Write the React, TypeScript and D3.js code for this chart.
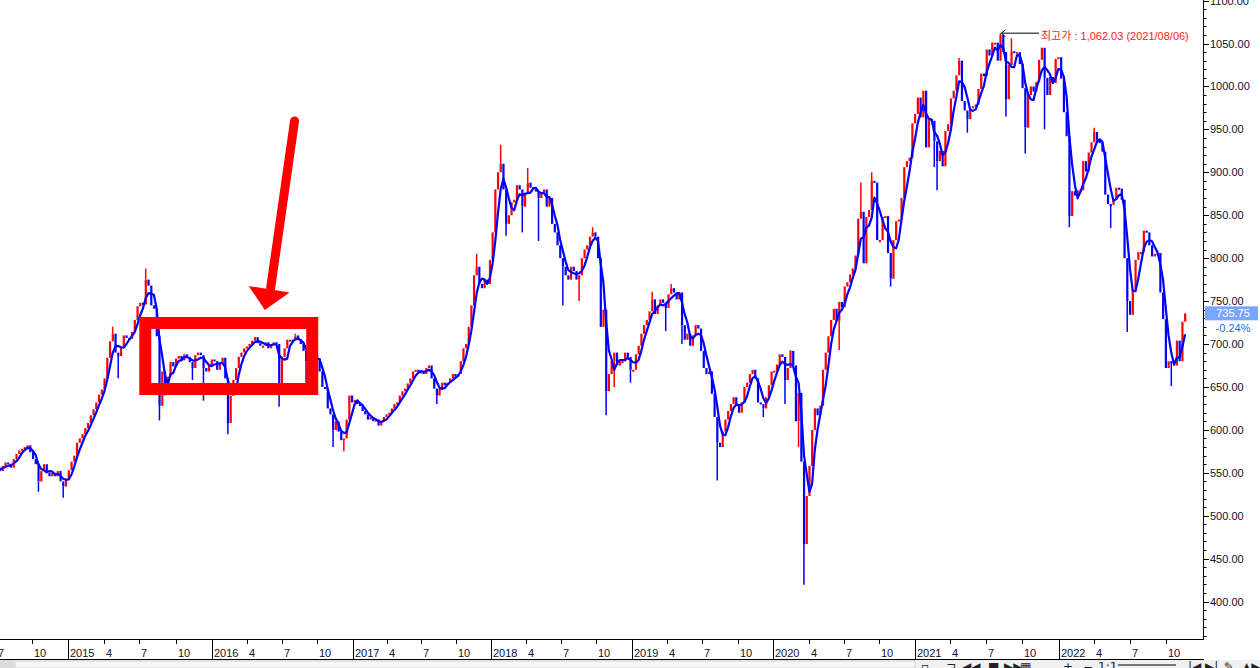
import React from "react";
import * as d3 from "d3";

// ---- weekly closes (Friday of each week) ----
const close2014 = [556, 552, 558, 562, 560, 556, 566, 572, 576, 578, 580, 582, 574, 566, 560, 540, 552, 560, 550, 546, 550, 546, 552, 540, 534, 542];
const close2015 = [553, 563, 570, 585, 590, 595, 602, 608, 617, 624, 632, 641, 647, 660, 684, 703, 712, 690, 686, 697, 710, 707, 706, 714, 728, 744, 748, 746, 775, 768, 745, 741, 709, 628, 668, 650, 662, 679, 674, 683, 686, 681, 688, 685, 679, 672, 687, 690, 687, 672, 668, 675];
const close2016 = [682, 680, 670, 678, 684, 660, 608, 640, 658, 672, 685, 690, 695, 697, 700, 704, 708, 701, 698, 698, 702, 695, 700, 702, 700, 647, 685, 695, 705, 705, 704, 710, 705, 700, 692, 680, 672, 688, 690, 683, 668, 650, 648, 625, 618, 600, 610, 598, 588, 590, 612, 640, 632];
const close2017 = [635, 630, 628, 622, 618, 612, 615, 610, 612, 605, 610, 615, 618, 620, 625, 630, 632, 640, 645, 648, 654, 660, 668, 670, 668, 668, 665, 672, 675, 660, 648, 640, 648, 655, 652, 655, 660, 665, 662, 665, 680, 695, 700, 720, 745, 780, 790, 770, 765, 775, 770, 798];
const close2018 = [830, 880, 900, 910, 880, 840, 850, 865, 868, 885, 880, 860, 875, 888, 882, 880, 878, 870, 875, 880, 860, 870, 840, 830, 815, 800, 790, 780, 775, 790, 785, 775, 780, 800, 810, 815, 825, 830, 825, 800, 720, 740, 645, 665, 680, 690, 675, 680, 680, 690, 685, 670];
const close2019 = [670, 688, 698, 712, 722, 728, 738, 752, 735, 745, 752, 748, 742, 758, 765, 760, 752, 760, 722, 705, 712, 698, 710, 722, 718, 692, 672, 665, 668, 642, 615, 585, 580, 598, 612, 622, 630, 638, 628, 620, 632, 650, 655, 665, 670, 660, 632, 630, 625, 638, 652, 668];
const close2020 = [669, 676, 688, 685, 658, 672, 692, 675, 610, 643, 563, 467, 523, 558, 600, 625, 617, 628, 670, 690, 709, 728, 741, 727, 749, 743, 767, 772, 781, 788, 803, 846, 854, 794, 848, 856, 890, 888, 821, 821, 848, 849, 806, 776, 821, 843, 845, 870, 906, 913, 917, 957];
const close2021 = [968, 987, 964, 995, 929, 962, 960, 936, 913, 925, 907, 948, 956, 986, 995, 1013, 1030, 983, 972, 962, 975, 977, 979, 997, 1015, 1012, 1043, 1036, 1051, 1051, 1030, 1060, 1040, 985, 1025, 1041, 1039, 1040, 1026, 998, 952, 990, 1000, 994, 1005, 1031, 1045, 1010, 990, 1011, 1004, 1032, 1034];
const close2022 = [1009, 970, 942, 849, 878, 873, 879, 879, 913, 901, 923, 935, 947, 937, 934, 924, 874, 863, 862, 868, 882, 881, 868, 800, 750, 734, 764, 798, 807, 807, 832, 830, 815, 802, 805, 806, 760, 729, 672, 680, 678, 675, 704, 680, 726, 735.75];

// first Friday of each block
const blockStarts = ["2014-07-04", "2015-01-02", "2016-01-01", "2017-01-06", "2018-01-05", "2019-01-04", "2020-01-03", "2021-01-01", "2022-01-07"];
const blockCloses = [close2014, close2015, close2016, close2017, close2018, close2019, close2020, close2021, close2022];

// long intraday wicks [week (Friday), extreme value]
const lowWicks: [string, number][] = [
  ["2014-10-17", 528], ["2014-12-19", 521], ["2015-05-08", 660], ["2015-08-21", 611],
  ["2015-09-04", 640], ["2015-11-13", 658], ["2015-12-11", 634], ["2016-02-26", 650],
  ["2016-02-12", 595], ["2016-06-24", 627], ["2016-09-02", 655], ["2016-11-11", 580],
  ["2016-12-09", 575], ["2017-08-11", 630], ["2018-02-09", 826], ["2018-03-23", 830],
  ["2018-05-04", 820], ["2018-07-06", 745], ["2018-08-17", 750], ["2018-10-26", 617],
  ["2018-11-16", 650], ["2018-12-28", 655], ["2019-03-29", 715], ["2019-05-10", 700],
  ["2019-08-09", 541], ["2019-12-06", 615], ["2020-01-31", 630], ["2020-03-06", 580],
  ["2020-03-20", 419.55], ["2020-06-19", 693], ["2020-10-30", 767], ["2021-02-19", 906],
  ["2021-02-26", 879], ["2021-05-14", 946], ["2021-08-20", 965], ["2021-10-08", 922],
  ["2021-11-26", 950], ["2022-01-28", 836], ["2022-05-13", 835], ["2022-06-24", 714],
  ["2022-09-30", 693], ["2022-10-14", 651],
];
const highWicks: [string, number][] = [
  ["2015-04-24", 720], ["2015-07-17", 788], ["2016-08-05", 712], ["2017-11-24", 805],
  ["2018-01-26", 932], ["2018-04-06", 905], ["2018-09-21", 836], ["2019-02-22", 761],
  ["2019-04-12", 770], ["2020-02-14", 693], ["2020-08-14", 888], ["2020-09-11", 900],
  ["2021-04-23", 1033], ["2021-07-16", 1050], ["2021-08-06", 1062.03], ["2021-09-03", 1056],
  ["2021-11-19", 1044], ["2022-04-01", 952],
];

// x-axis calibration: trading-day scale, positions of each year start
const yearStarts = ["2015-01-01", "2016-01-01", "2017-01-01", "2018-01-01", "2019-01-01", "2020-01-01", "2021-01-01", "2022-01-01"];
const yearStartPx = [68.3, 211.7, 352.7, 491, 632, 773.4, 915, 1058.7];

const yMajorTicks = [400, 450, 500, 550, 600, 650, 700, 750, 800, 850, 900, 950, 1000, 1050, 1100];
const monthTicks = [1, 4, 7, 10];

const peakDate = "2021-08-06";
const peakValue = 1062.03;
const lastValue = 735.75;
const lastChange = "-0.24%";
const peakLabel = "최고가 : 1,062.03 (2021/08/06)";

// hand-drawn highlight (in data coordinates)
const boxCorners: [string, number][] = [["2015-07-16", 724.5], ["2016-09-18", 647.6]];
const arrowShaft: [string, number][] = [["2016-08-03", 959.7], ["2016-06-02", 765]];
const arrowHead: [string, number][] = [["2016-04-06", 767.6], ["2016-07-21", 760], ["2016-05-18", 739.6]];

const DAY = 864e5;
const parse = (s: string) => new Date(s + "T00:00:00Z");

const FONT = "'Liberation Sans', Arial, 'Noto Sans CJK KR', sans-serif";

export default function App() {
  const AXIS_X = 1203;
  const PLOT_B = 639;
  const AX_B = 659;

  const x = d3.scaleUtc().domain(yearStarts.map(parse)).range(yearStartPx);
  const y = d3.scaleLinear().domain([400, 1050]).range([601.6, 43.5]);

  const weeks: { date: Date; open: number; close: number; ma: number }[] = [];
  blockStarts.forEach((s, bi) => {
    const d0 = parse(s).getTime();
    blockCloses[bi].forEach((c, i) => {
      weeks.push({ date: new Date(d0 + i * 7 * DAY), open: c, close: c, ma: c });
    });
  });
  weeks.forEach((w, i) => {
    w.open = i > 0 ? weeks[i - 1].close : w.close;
    const win = weeks.slice(Math.max(0, i - 3), i + 1);
    w.ma = d3.mean(win, (d) => d.close) as number;
  });
  const findWeek = (s: string) => {
    const t = parse(s).getTime();
    let best = weeks[0];
    weeks.forEach((w) => {
      if (Math.abs(w.date.getTime() - t) < Math.abs(best.date.getTime() - t)) best = w;
    });
    return best;
  };
  const col = (w: { open: number; close: number }) => (w.close >= w.open ? "#ff0000" : "#0000ff");

  const maLine = d3
    .line<{ date: Date; ma: number }>()
    .x((d) => x(d.date))
    .y((d) => y(d.ma));

  // axis ticks
  const minorTicks = d3.range(360, 1101, 10).filter((v) => y(v) >= 0 && y(v) <= PLOT_B);
  const monthDates: Date[] = [];
  for (let yr = 2014; yr <= 2022; yr++) {
    monthTicks.forEach((m) => {
      const d = new Date(Date.UTC(yr, m - 1, 1));
      const px = x(d);
      if (px > -20 && px < AXIS_X) monthDates.push(d);
    });
  }

  const peakX = x(parse(peakDate));
  const peakY = y(peakValue);

  const bx1 = x(parse(boxCorners[0][0]));
  const by1 = y(boxCorners[0][1]);
  const bx2 = x(parse(boxCorners[1][0]));
  const by2 = y(boxCorners[1][1]);
  const headPts = arrowHead.map(([d, v]) => `${x(parse(d))},${y(v)}`).join(" ");

  const icons = [
    { x: 921, t: "▫" }, { x: 946, t: "⊐" }, { x: 962, t: "◀◀" }, { x: 988, t: "■" },
    { x: 1004, t: "▶▶" }, { x: 1020, t: "▦" }, { x: 1063, t: "+" }, { x: 1083, t: "−" },
    { x: 1098, t: "1:1" }, { x: 1188, t: "|◀" }, { x: 1205, t: "▶|" }, { x: 1224, t: "✎" }, { x: 1242, t: "▲▶" },
  ];

  return (
    <div style={{ position: "fixed", left: 0, top: 0, width: 1260, height: 668, background: "#fff" }}>
      <svg width={1260} height={668} style={{ display: "block", fontFamily: FONT }}>
        <defs>
          <clipPath id="plot">
            <rect x={0} y={0} width={AXIS_X} height={PLOT_B} />
          </clipPath>
        </defs>
        <rect x={0} y={0} width={1260} height={668} fill="#fff" />

        <g clipPath="url(#plot)">
          {/* wicks */}
          {lowWicks.map(([d, v], i) => {
            const w = findWeek(d);
            return (
              <line key={"lw" + i} x1={x(w.date)} x2={x(w.date)} y1={y(Math.min(w.open, w.close))} y2={y(v)} stroke={col(w)} strokeWidth={1.5} />
            );
          })}
          {highWicks.map(([d, v], i) => {
            const w = findWeek(d);
            return (
              <line key={"hw" + i} x1={x(w.date)} x2={x(w.date)} y1={y(Math.max(w.open, w.close))} y2={y(v)} stroke={col(w)} strokeWidth={1.5} />
            );
          })}
          {/* weekly bars */}
          {weeks.map((w, i) => {
            const top = y(Math.max(w.open, w.close));
            const bot = y(Math.min(w.open, w.close));
            return (
              <rect key={i} x={x(w.date) - 1} y={top} width={2.2} height={Math.max(2, bot - top)} fill={col(w)} />
            );
          })}
          {/* moving average */}
          <path d={maLine(weeks) || ""} fill="none" stroke="#0000ff" strokeWidth={2.2} strokeLinejoin="round" />
        </g>

        {/* right axis */}
        <line x1={AXIS_X + 0.5} x2={AXIS_X + 0.5} y1={0} y2={PLOT_B} stroke="#000" strokeWidth={1} />
        {minorTicks.map((v) => (
          <line key={"mt" + v} x1={AXIS_X} x2={AXIS_X + (v % 50 === 0 ? 6 : 3.5)} y1={Math.round(y(v)) + 0.5} y2={Math.round(y(v)) + 0.5} stroke="#000" />
        ))}
        {yMajorTicks.map((v) => (
          <text key={"yl" + v} x={AXIS_X + 7} y={y(v)} dominantBaseline="central" fontSize={11} fill="#101030">
            {v.toFixed(2)}
          </text>
        ))}

        {/* last price label */}
        <rect x={1205} y={y(lastValue) - 7} width={53} height={14} fill="#78a6ff" />
        <text x={1233} y={y(lastValue)} textAnchor="middle" dominantBaseline="central" fontSize={11} fill="#fff">
          {lastValue.toFixed(2)}
        </text>
        <text x={1233} y={y(lastValue) + 14.5} textAnchor="middle" dominantBaseline="central" fontSize={11} fill="#2a62ff">
          {lastChange}
        </text>

        {/* bottom axis */}
        <line x1={0} x2={AXIS_X + 1} y1={PLOT_B + 0.5} y2={PLOT_B + 0.5} stroke="#000" />
        <line x1={0} x2={AXIS_X + 1} y1={AX_B + 0.5} y2={AX_B + 0.5} stroke="#000" />
        {monthDates.map((d, i) => {
          const px = Math.round(x(d)) + 0.5;
          const m = d.getUTCMonth() + 1;
          const isYear = m === 1;
          return (
            <g key={"xt" + i}>
              <line x1={px} x2={px} y1={PLOT_B} y2={isYear ? AX_B : PLOT_B + 5} stroke="#000" />
              <text x={px + 1.5} y={653} dominantBaseline="central" fontSize={11} fill="#101030">
                {isYear ? String(d.getUTCFullYear()) : String(m)}
              </text>
            </g>
          );
        })}

        {/* bottom toolbar */}
        <rect x={0} y={AX_B + 1} width={1260} height={668 - AX_B - 1} fill="#f0f0f0" />
        <rect x={0} y={AX_B + 1} width={14} height={8} fill="#dcdcdc" />
        <rect x={15} y={AX_B + 2} width={900} height={7} fill="#f7f7f7" stroke="#cfcfcf" />
        {icons.map((ic, i) => (
          <text key={"ic" + i} x={ic.x} y={671} fontSize={12} fill="#222" fontFamily="'DejaVu Sans', sans-serif">
            {ic.t}
          </text>
        ))}
        <rect x={1118} y={664} width={58} height={2} fill="#777" />

        {/* peak annotation */}
        <line x1={peakX + 1} x2={1039} y1={peakY} y2={peakY} stroke="#000" strokeWidth={1} />
        <path d={`M${peakX + 5},${peakY - 3.5} L${peakX + 1},${peakY} L${peakX + 5},${peakY + 3.5}`} fill="none" stroke="#000" strokeWidth={1} />
        <text x={1041} y={peakY + 3} dominantBaseline="central" fontSize={11} fill="#ff1a1a">
          {peakLabel}
        </text>

        {/* hand-drawn highlight */}
        <rect x={bx1} y={by1} width={bx2 - bx1} height={by2 - by1} fill="none" stroke="#ff0000" strokeWidth={12} />
        <line
          x1={x(parse(arrowShaft[0][0]))}
          y1={y(arrowShaft[0][1])}
          x2={x(parse(arrowShaft[1][0]))}
          y2={y(arrowShaft[1][1])}
          stroke="#ff0000"
          strokeWidth={9}
          strokeLinecap="round"
        />
        <polygon points={headPts} fill="#ff0000" />
      </svg>
    </div>
  );
}
